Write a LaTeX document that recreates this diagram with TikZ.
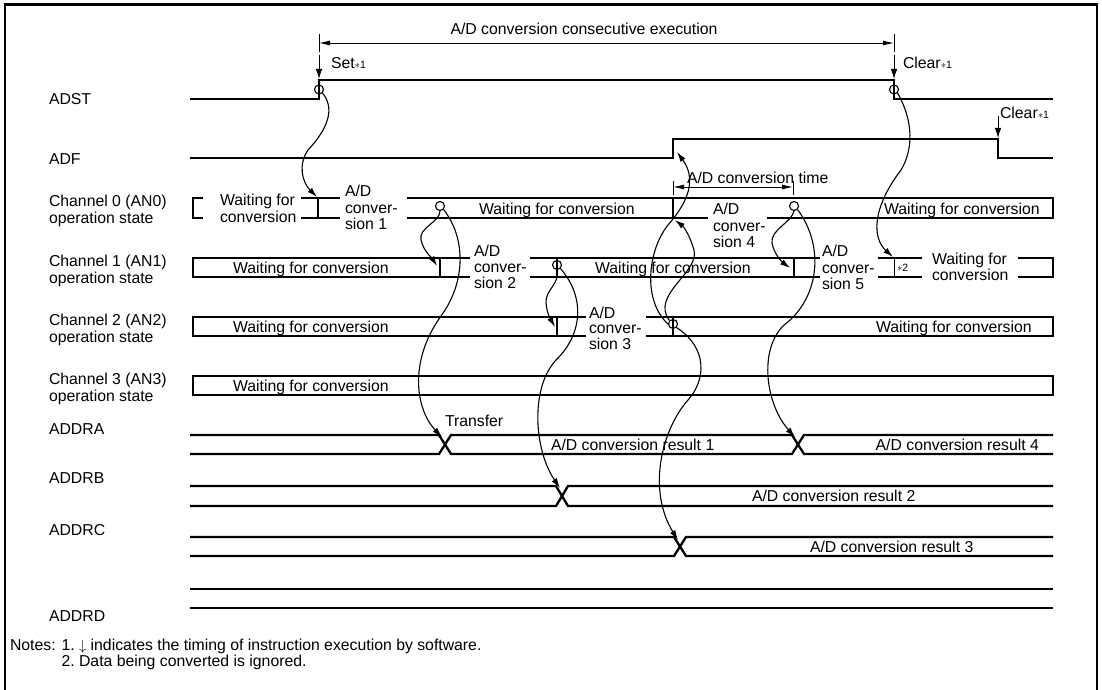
\documentclass[tikz,border=0pt]{standalone}
\usepackage{fontspec}
\setmainfont{Liberation Sans}
\usetikzlibrary{arrows.meta}
\begin{document}
\begin{tikzpicture}[x=1pt,y=-1pt]
\tikzset{
  tx/.style={inner sep=0pt, outer sep=0pt, font=\fontsize{15.8}{17}\selectfont, anchor=base west},
  txc/.style={tx, anchor=base},
  txe/.style={tx, anchor=base east},
  sig/.style={line width=2.3pt, line cap=butt, line join=miter},
  dim/.style={line width=0.9pt},
  dimarr/.style={dim, {Latex[length=11pt,width=5pt]}-{Latex[length=11pt,width=5pt]}},
  curv/.style={line width=1.1pt, -{Latex[length=10pt,width=6pt]}},
  swarr/.style={line width=0.9pt, -{Latex[length=10pt,width=6.5pt]}},
  ring/.style={circle, draw, line width=1.1pt, minimum size=9pt, inner sep=0pt},
}
\newcommand{\astn}[1]{{\fontsize{10.5}{10}\selectfont$\ast$#1}}
\useasboundingbox (0,0) rectangle (1102,690);
\draw[line width=2.5pt] (5,691) -- (5,4.5) -- (1097,4.5) -- (1097,691);

% ---- top dimension
\node[txc] (tcap) at (584,35) {A/D conversion consecutive execution};
\coordinate (dL) at (319,43); \coordinate (dR) at (894,43);
\draw[dim] (319,34) -- (319,52);
\draw[dim] (894,34) -- (894,52);
\draw[dimarr] (dL) -- (dR);

% ---- software arrows
\coordinate (setT) at (319,55); \coordinate (setB) at (319,79);
\draw[swarr] (setT) -- (setB);
\node[tx] (setlbl) at (331,69) {Set\astn{1}};
\coordinate (clrT) at (894,55); \coordinate (clrB) at (894,79);
\draw[swarr] (clrT) -- (clrB);
\node[tx] (clrlbl) at (903,69) {Clear\astn{1}};
\coordinate (clr2T) at (998,116); \coordinate (clr2B) at (998,138);
\draw[swarr] (clr2T) -- (clr2B);
\node[tx] (clr2lbl) at (1000,119) {Clear\astn{1}};

% ---- left labels
\node[tx] (lADST) at (49,105) {ADST};
\node[tx] (lADF) at (49,164) {ADF};
\node[tx] (lc0a) at (49,206) {Channel 0 (AN0)};
\node[tx] (lc0b) at (49,223) {operation state};
\node[tx] (lc1a) at (49,266) {Channel 1 (AN1)};
\node[tx] (lc1b) at (49,283) {operation state};
\node[tx] (lc2a) at (49,325) {Channel 2 (AN2)};
\node[tx] (lc2b) at (49,342) {operation state};
\node[tx] (lc3a) at (49,384) {Channel 3 (AN3)};
\node[tx] (lc3b) at (49,401) {operation state};
\node[tx] (lA) at (49,434) {ADDRA};
\node[tx] (lB) at (49,483) {ADDRB};
\node[tx] (lC) at (49,535) {ADDRC};
\node[tx] (lD) at (49,621) {ADDRD};

% ---- ADST / ADF
\draw[sig] (190,99) -- (319,99) -- (319,80) -- (894,80) -- (894,99) -- (1053,99);
\node[ring] (adstS) at (319,89.5) {};
\node[ring] (adstC) at (894,89.5) {};
\draw[sig] (190,158) -- (673,158) -- (673,139) -- (998,139) -- (998,158) -- (1053,158);

% ---- conversion time dimension
\node[tx] (ctime) at (687,183) {A/D conversion time};
\coordinate (ctL) at (673,187); \coordinate (ctR) at (793,187);
\draw[dim] (673,181) -- (673,195);
\draw[dim] (793,181) -- (793,195);
\draw[dimarr] (ctL) -- (ctR);

% ---- Channel 0
\draw[sig] (203,198) -- (193,198) -- (193,218) -- (203,218);
\node[tx] (c0w1) at (220,205) {Waiting for};
\node[tx] (c0w2) at (220,222) {conversion};
\draw[sig] (301,198) -- (340,198);
\draw[sig] (301,218) -- (340,218);
\draw[sig] (318,198) -- (318,218);
\node[tx] (c0v1) at (345,196) {A/D};
\node[tx] (c0v2) at (345,213) {conver-};
\node[tx] (c0v3) at (345,229) {sion 1};
\draw[sig] (407,198) -- (1053,198) -- (1053,218) -- (767,218);
\draw[sig] (407,218) -- (708,218);
\draw[sig] (673,198) -- (673,218);
\node[tx] (c0w3) at (479,214) {Waiting for conversion};
\node[tx] (c0v4) at (713,214) {A/D};
\node[tx] (c0v5) at (713,231) {conver-};
\node[tx] (c0v6) at (713,247) {sion 4};
\node[tx] (c0w4) at (884,214) {Waiting for conversion};
\node[ring] (c0a) at (440,206) {};
\node[ring] (c0d) at (794,206) {};

% ---- Channel 1
\draw[sig] (470,258) -- (193,258) -- (193,277) -- (470,277);
\draw[sig] (440,258) -- (440,277);
\node[tx] (c1w1) at (233,273) {Waiting for conversion};
\node[tx] (c1v1) at (474,256) {A/D};
\node[tx] (c1v2) at (474,272) {conver-};
\node[tx] (c1v3) at (474,288) {sion 2};
\draw[sig] (530,258) -- (820,258);
\draw[sig] (530,277) -- (820,277);
\draw[sig] (557,258) -- (557,277);
\draw[sig] (794,258) -- (794,277);
\node[tx] (c1w2) at (595,273) {Waiting for conversion};
\node[tx] (c1v4) at (822,256) {A/D};
\node[tx] (c1v5) at (822,273) {conver-};
\node[tx] (c1v6) at (822,289) {sion 5};
\draw[sig] (878,258) -- (922,258);
\draw[sig] (878,277) -- (922,277);
\draw[line width=1pt] (894,258) -- (894,277);
\node[tx] (c1n2) at (897,271) {\astn{2}};
\node[tx] (c1w3) at (932,264) {Waiting for};
\node[tx] (c1w4) at (932,280) {conversion};
\draw[sig] (1018,258) -- (1053,258) -- (1053,277) -- (1018,277);
\node[ring] (c1b) at (557,265) {};

% ---- Channel 2
\draw[sig] (586,317) -- (193,317) -- (193,336) -- (586,336);
\draw[sig] (557,317) -- (557,336);
\node[tx] (c2w1) at (233,332) {Waiting for conversion};
\node[tx] (c2v1) at (589,318) {A/D};
\node[tx] (c2v2) at (589,333) {conver-};
\node[tx] (c2v3) at (589,349) {sion 3};
\draw[sig] (646,317) -- (1053,317) -- (1053,336) -- (646,336);
\draw[sig] (673,317) -- (673,336);
\node[tx] (c2w2) at (876,332) {Waiting for conversion};
\node[ring] (c2c) at (673,324) {};

% ---- Channel 3
\draw[sig] (193,376) rectangle (1053,395);
\node[tx] (c3w1) at (233,391) {Waiting for conversion};

% ---- data registers
\draw[sig] (190,435) -- (439,435) -- (451,454) -- (792,454) -- (804,435) -- (1053,435);
\draw[sig] (190,454) -- (439,454) -- (451,435) -- (792,435) -- (804,454) -- (1053,454);
\node[tx] (trf) at (445,426) {Transfer};
\node[tx] (r1) at (551,450) {A/D conversion result 1};
\node[txe] (r4) at (1039,450) {A/D conversion result 4};
\draw[sig] (190,486) -- (556,486) -- (568,506) -- (1053,506);
\draw[sig] (190,506) -- (556,506) -- (568,486) -- (1053,486);
\node[tx] (r2) at (752,501) {A/D conversion result 2};
\draw[sig] (190,537) -- (674,537) -- (686,556) -- (1053,556);
\draw[sig] (190,556) -- (674,556) -- (686,537) -- (1053,537);
\node[tx] (r3) at (810,552) {A/D conversion result 3};
\draw[sig] (190,589) -- (1053,589);
\draw[sig] (190,608) -- (1053,608);

% ---- targets
\coordinate (t0set) at (317,197);
\coordinate (t1clr) at (893,257);
\coordinate (t1a) at (437,266);
\coordinate (xA1) at (442,437);
\coordinate (t2b) at (555,327);
\coordinate (xB) at (560,488);
\coordinate (xC) at (678,540);
\coordinate (t0d) at (675,220);
\coordinate (adfR) at (677,152);
\coordinate (t1d) at (790,268);
\coordinate (xA2) at (795,437);

% ---- causal curves
\draw[curv] (adstS.south east) .. controls (338,112) and (322,135) .. (308,150) .. controls (298,165) and (302,182) .. (t0set);
\draw[curv] (adstC.south east) .. controls (914,122) and (913,150) .. (901,170) .. controls (872,208) and (872,238) .. (t1clr);
\draw[curv] (c0a.south) .. controls (440,222) and (418,228) .. (421,240) .. controls (424,252) and (432,258) .. (t1a);
\draw[curv] (c0a.south east) .. controls (466,238) and (466,282) .. (441,316) .. controls (408,362) and (416,410) .. (xA1);
\draw[curv] (c1b.south) .. controls (560,284) and (545,290) .. (546,303) .. controls (547,314) and (551,320) .. (t2b);
\draw[curv] (c1b.south east) .. controls (586,298) and (582,335) .. (556,360) .. controls (530,388) and (534,450) .. (xB);
\draw[curv] (c2c.south east) .. controls (708,348) and (706,380) .. (688,400) .. controls (660,432) and (648,492) .. (xC);
\draw[curv] (c2c.north west) .. controls (650,295) and (700,272) .. (694,250) .. controls (690,236) and (684,227) .. (t0d);
\draw[curv] (c2c.west) .. controls (642,300) and (648,250) .. (668,225) .. controls (690,200) and (696,178) .. (adfR);
\draw[curv] (c0d.south) .. controls (792,222) and (770,230) .. (772,243) .. controls (774,254) and (782,262) .. (t1d);
\draw[curv] (c0d.south east) .. controls (826,248) and (818,300) .. (784,325) .. controls (758,350) and (766,405) .. (xA2);

% ---- notes
\node[tx] (n1) at (10,650) {Notes: 1.\ $\downarrow$ indicates the timing of instruction execution by software.};
\node[tx] (n2) at (10,666) {\phantom{Notes: }2.\ Data being converted is ignored.};
\end{tikzpicture}
\end{document}
